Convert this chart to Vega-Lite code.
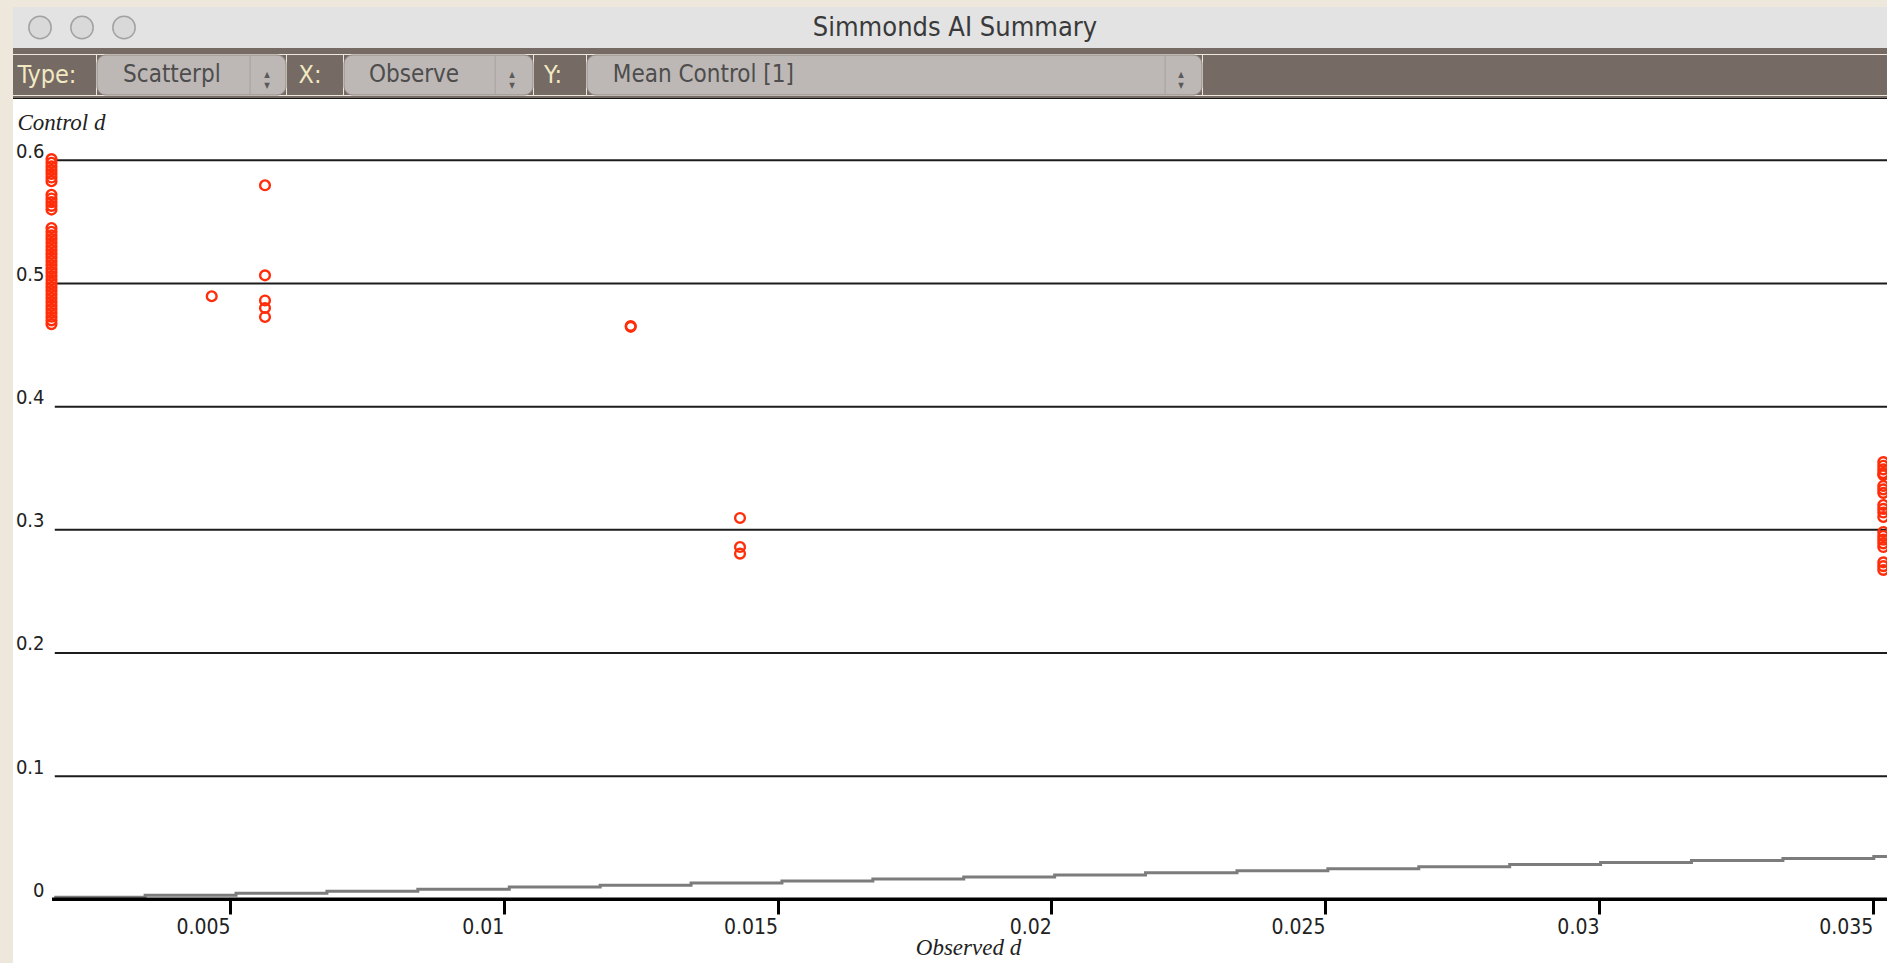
{
  "$schema": "https://vega.github.io/schema/vega-lite/v6.json",
  "background": "#ede7dc",
  "padding": {"left": 13, "top": 7, "right": 0, "bottom": 0},
  "spacing": 0,
  "config": {
    "view": {"stroke": null},
    "concat": {"spacing": 0},
    "text": {"font": "DejaVu Sans Condensed, Liberation Sans Narrow, DejaVu Sans"}
  },
  "vconcat": [
    {
      "spacing": 0,
      "hconcat": [
        {
          "width": 138,
          "height": 41,
          "view": {"fill": "#e3e3e3"},
          "data": {"values": [{"light": "close"}, {"light": "minimize"}, {"light": "zoom"}]},
          "mark": {"type": "point", "filled": true, "size": 500, "fill": "#d9d9d9", "stroke": "#a2a2a2", "strokeWidth": 1.5, "opacity": 1},
          "encoding": {
            "x": {"field": "light", "type": "nominal", "sort": null, "scale": {"type": "point", "padding": 0.643}, "axis": null}
          }
        },
        {
          "width": 1608,
          "height": 41,
          "view": {"fill": "#e3e3e3"},
          "data": {"values": [{"caption": "Simmonds AI Summary"}]},
          "mark": {"type": "text", "fontSize": 27, "color": "#3a3a3a"},
          "encoding": {"text": {"field": "caption"}}
        },
        {
          "width": 128,
          "height": 41,
          "view": {"fill": "#e3e3e3"},
          "data": {"values": []},
          "mark": "point"
        }
      ]
    },
    {
      "width": 1874,
      "height": 6,
      "view": {"fill": "#766a65"},
      "data": {"values": []},
      "mark": "point"
    },
    {
      "spacing": 0,
      "hconcat": [
        {
          "width": 68,
          "height": 40,
          "view": {"fill": "#766a65"},
          "data": {"values": [{"label": "Type:"}]},
          "mark": {"type": "text", "fontSize": 25, "color": "#f1e9c2"},
          "encoding": {"text": {"field": "label"}}
        },
        {
          "width": 15,
          "height": 40,
          "view": {"fill": "#766a65"},
          "data": {"values": []},
          "mark": "point"
        },
        {
          "width": 189,
          "height": 40,
          "view": {"fill": "#766a65"},
          "data": {"values": [{"choice": "Scatterpl"}]},
          "layer": [
            {
              "mark": {"type": "rect", "cornerRadius": 9, "fill": "#bdb8b5", "stroke": "#948b87", "strokeWidth": 1},
              "encoding": {
                "x": {"datum": 0, "scale": {"domain": [0, 1], "nice": false}, "axis": null},
                "x2": {"datum": 1}
              }
            },
            {
              "mark": {"type": "rule", "stroke": "#a8a19d", "strokeWidth": 1},
              "encoding": {"x": {"datum": 0.81}}
            },
            {
              "mark": {"type": "text", "align": "left", "fontSize": 24, "color": "#4d4d4d"},
              "encoding": {"x": {"datum": 0.138}, "text": {"field": "choice"}}
            },
            {
              "mark": {"type": "text", "text": ["▲", "▼"], "fontSize": 8, "lineHeight": 11, "color": "#5a5a5a"},
              "encoding": {"x": {"datum": 0.9}}
            }
          ]
        },
        {
          "width": 46,
          "height": 40,
          "view": {"fill": "#766a65"},
          "data": {"values": [{"label": "X:"}]},
          "mark": {"type": "text", "fontSize": 25, "color": "#f1e9c2"},
          "encoding": {"text": {"field": "label"}}
        },
        {
          "width": 10,
          "height": 40,
          "view": {"fill": "#766a65"},
          "data": {"values": []},
          "mark": "point"
        },
        {
          "width": 189,
          "height": 40,
          "view": {"fill": "#766a65"},
          "data": {"values": [{"choice": "Observe"}]},
          "layer": [
            {
              "mark": {"type": "rect", "cornerRadius": 9, "fill": "#bdb8b5", "stroke": "#948b87", "strokeWidth": 1},
              "encoding": {
                "x": {"datum": 0, "scale": {"domain": [0, 1], "nice": false}, "axis": null},
                "x2": {"datum": 1}
              }
            },
            {
              "mark": {"type": "rule", "stroke": "#a8a19d", "strokeWidth": 1},
              "encoding": {"x": {"datum": 0.8}}
            },
            {
              "mark": {"type": "text", "align": "left", "fontSize": 24, "color": "#4d4d4d"},
              "encoding": {"x": {"datum": 0.132}, "text": {"field": "choice"}}
            },
            {
              "mark": {"type": "text", "text": ["▲", "▼"], "fontSize": 8, "lineHeight": 11, "color": "#5a5a5a"},
              "encoding": {"x": {"datum": 0.889}}
            }
          ]
        },
        {
          "width": 38,
          "height": 40,
          "view": {"fill": "#766a65"},
          "data": {"values": [{"label": "Y:"}]},
          "mark": {"type": "text", "fontSize": 25, "color": "#f1e9c2"},
          "encoding": {"text": {"field": "label"}}
        },
        {
          "width": 14,
          "height": 40,
          "view": {"fill": "#766a65"},
          "data": {"values": []},
          "mark": "point"
        },
        {
          "width": 615,
          "height": 40,
          "view": {"fill": "#766a65"},
          "data": {"values": [{"choice": "Mean Control [1]"}]},
          "layer": [
            {
              "mark": {"type": "rect", "cornerRadius": 9, "fill": "#bdb8b5", "stroke": "#948b87", "strokeWidth": 1},
              "encoding": {
                "x": {"datum": 0, "scale": {"domain": [0, 1], "nice": false}, "axis": null},
                "x2": {"datum": 1}
              }
            },
            {
              "mark": {"type": "rule", "stroke": "#a8a19d", "strokeWidth": 1},
              "encoding": {"x": {"datum": 0.94}}
            },
            {
              "mark": {"type": "text", "align": "left", "fontSize": 24, "color": "#4d4d4d"},
              "encoding": {"x": {"datum": 0.042}, "text": {"field": "choice"}}
            },
            {
              "mark": {"type": "text", "text": ["▲", "▼"], "fontSize": 8, "lineHeight": 11, "color": "#5a5a5a"},
              "encoding": {"x": {"datum": 0.966}}
            }
          ]
        },
        {
          "width": 690,
          "height": 40,
          "view": {"fill": "#766a65"},
          "data": {"values": []},
          "mark": "point"
        }
      ]
    },
    {
      "width": 1874,
      "height": 2,
      "view": {"fill": "#766a65"},
      "data": {"values": []},
      "mark": "point"
    },
    {
      "width": 1874,
      "height": 1,
      "view": {"fill": "#151515"},
      "data": {"values": []},
      "mark": "point"
    },
    {
      "width": 1874,
      "height": 866,
      "view": {"fill": "#ffffff"},
      "layer": [
        {
          "data": {"values": [
            {"level": 0.1}, {"level": 0.2}, {"level": 0.3},
            {"level": 0.4}, {"level": 0.5}, {"level": 0.6}
          ]},
          "mark": {"type": "rule", "color": "#1c1c1c", "strokeWidth": 2},
          "encoding": {
            "y": {
              "field": "level",
              "type": "quantitative",
              "scale": {"domain": [-0.05334, 0.64976], "nice": false, "zero": false},
              "axis": {
                "values": [0, 0.1, 0.2, 0.3, 0.4, 0.5, 0.6],
                "format": "~g",
                "offset": -42,
                "domain": false,
                "ticks": false,
                "grid": false,
                "labelPadding": 11,
                "labelFont": "DejaVu Sans Condensed, Liberation Sans Narrow, DejaVu Sans",
                "labelFontSize": 20,
                "labelColor": "#222222",
                "labelBaseline": "alphabetic",
                "labelOffset": -3,
                "title": "Control d",
                "titleFont": "Liberation Serif",
                "titleFontStyle": "italic",
                "titleFontWeight": "normal",
                "titleFontSize": 23,
                "titleColor": "#222222",
                "titleAngle": 0,
                "titleAlign": "left",
                "titleBaseline": "middle",
                "titleX": -38,
                "titleY": 23
              }
            },
            "x": {
              "datum": 0.0018,
              "type": "quantitative",
              "scale": {"domain": [0.001037, 0.035261], "nice": false, "zero": false},
              "axis": {
                "values": [0.005, 0.01, 0.015, 0.02, 0.025, 0.03, 0.035],
                "format": ".3~f",
                "offset": -66,
                "domain": false,
                "grid": false,
                "tickSize": 15,
                "tickWidth": 3,
                "tickColor": "#000000",
                "labelAlign": "right",
                "labelBaseline": "top",
                "labelPadding": 2,
                "labelFont": "DejaVu Sans Condensed, Liberation Sans Narrow, DejaVu Sans",
                "labelFontSize": 21,
                "labelColor": "#222222",
                "labelFlush": false,
                "labelOverlap": false,
                "title": "Observed d",
                "titleFont": "Liberation Serif",
                "titleFontStyle": "italic",
                "titleFontWeight": "normal",
                "titleFontSize": 23,
                "titleColor": "#222222",
                "titleAlign": "center",
                "titleBaseline": "middle",
                "titleX": 955,
                "titleY": 48
              }
            },
            "x2": {"datum": 0.035261}
          }
        },
        {
          "data": {"values": [
            {"ref_x": 0.00179, "ref_y": 0.0016},
            {"ref_x": 0.00345, "ref_y": 0.0032},
            {"ref_x": 0.00511, "ref_y": 0.0049},
            {"ref_x": 0.00677, "ref_y": 0.0066},
            {"ref_x": 0.00843, "ref_y": 0.0082},
            {"ref_x": 0.0101, "ref_y": 0.0099},
            {"ref_x": 0.01176, "ref_y": 0.0115},
            {"ref_x": 0.01342, "ref_y": 0.0132},
            {"ref_x": 0.01508, "ref_y": 0.0149},
            {"ref_x": 0.01674, "ref_y": 0.0165},
            {"ref_x": 0.0184, "ref_y": 0.0182},
            {"ref_x": 0.02006, "ref_y": 0.0198},
            {"ref_x": 0.02172, "ref_y": 0.0215},
            {"ref_x": 0.02339, "ref_y": 0.0232},
            {"ref_x": 0.02505, "ref_y": 0.0248},
            {"ref_x": 0.02671, "ref_y": 0.0265},
            {"ref_x": 0.02837, "ref_y": 0.0282},
            {"ref_x": 0.03003, "ref_y": 0.0298},
            {"ref_x": 0.03169, "ref_y": 0.0315},
            {"ref_x": 0.03336, "ref_y": 0.0331},
            {"ref_x": 0.03502, "ref_y": 0.0348},
            {"ref_x": 0.03526, "ref_y": 0.0348}
          ]},
          "mark": {"type": "line", "interpolate": "step-after", "color": "#7c7c7c", "strokeWidth": 3},
          "encoding": {
            "x": {"field": "ref_x", "type": "quantitative"},
            "y": {"field": "ref_y", "type": "quantitative"}
          }
        },
        {
          "data": {"values": [{}]},
          "mark": {"type": "rule", "color": "#000000", "strokeWidth": 3.5},
          "encoding": {
            "y": {"datum": 0, "type": "quantitative"},
            "x": {"datum": 0.00175, "type": "quantitative"},
            "x2": {"datum": 0.035261}
          }
        },
        {
          "data": {"values": [
            {"observed": 0.00174, "control": 0.601},
            {"observed": 0.00174, "control": 0.598},
            {"observed": 0.00174, "control": 0.595},
            {"observed": 0.00174, "control": 0.592},
            {"observed": 0.00174, "control": 0.589},
            {"observed": 0.00174, "control": 0.586},
            {"observed": 0.00174, "control": 0.583},
            {"observed": 0.00174, "control": 0.572},
            {"observed": 0.00174, "control": 0.569},
            {"observed": 0.00174, "control": 0.566},
            {"observed": 0.00174, "control": 0.563},
            {"observed": 0.00174, "control": 0.560},
            {"observed": 0.00174, "control": 0.545},
            {"observed": 0.00174, "control": 0.542},
            {"observed": 0.00174, "control": 0.539},
            {"observed": 0.00174, "control": 0.536},
            {"observed": 0.00174, "control": 0.533},
            {"observed": 0.00174, "control": 0.530},
            {"observed": 0.00174, "control": 0.527},
            {"observed": 0.00174, "control": 0.524},
            {"observed": 0.00174, "control": 0.521},
            {"observed": 0.00174, "control": 0.518},
            {"observed": 0.00174, "control": 0.515},
            {"observed": 0.00174, "control": 0.512},
            {"observed": 0.00174, "control": 0.509},
            {"observed": 0.00174, "control": 0.506},
            {"observed": 0.00174, "control": 0.503},
            {"observed": 0.00174, "control": 0.500},
            {"observed": 0.00174, "control": 0.497},
            {"observed": 0.00174, "control": 0.494},
            {"observed": 0.00174, "control": 0.491},
            {"observed": 0.00174, "control": 0.488},
            {"observed": 0.00174, "control": 0.485},
            {"observed": 0.00174, "control": 0.482},
            {"observed": 0.00174, "control": 0.479},
            {"observed": 0.00174, "control": 0.476},
            {"observed": 0.00174, "control": 0.473},
            {"observed": 0.00174, "control": 0.470},
            {"observed": 0.00174, "control": 0.467},
            {"observed": 0.004666, "control": 0.4896},
            {"observed": 0.005639, "control": 0.5797},
            {"observed": 0.005639, "control": 0.5066},
            {"observed": 0.005639, "control": 0.4862},
            {"observed": 0.005639, "control": 0.4801},
            {"observed": 0.005639, "control": 0.4728},
            {"observed": 0.012318, "control": 0.4655},
            {"observed": 0.012318, "control": 0.4648},
            {"observed": 0.014314, "control": 0.3096},
            {"observed": 0.014314, "control": 0.2860},
            {"observed": 0.014314, "control": 0.2806},
            {"observed": 0.035193, "control": 0.3550},
            {"observed": 0.035193, "control": 0.3520},
            {"observed": 0.035193, "control": 0.3490},
            {"observed": 0.035193, "control": 0.3460},
            {"observed": 0.035193, "control": 0.3445},
            {"observed": 0.035193, "control": 0.3356},
            {"observed": 0.035193, "control": 0.3328},
            {"observed": 0.035193, "control": 0.3300},
            {"observed": 0.035193, "control": 0.3201},
            {"observed": 0.035193, "control": 0.3170},
            {"observed": 0.035193, "control": 0.3140},
            {"observed": 0.035193, "control": 0.3104},
            {"observed": 0.035193, "control": 0.2982},
            {"observed": 0.035193, "control": 0.2950},
            {"observed": 0.035193, "control": 0.2920},
            {"observed": 0.035193, "control": 0.2890},
            {"observed": 0.035193, "control": 0.2860},
            {"observed": 0.035193, "control": 0.2736},
            {"observed": 0.035193, "control": 0.2705},
            {"observed": 0.035193, "control": 0.2674}
          ]},
          "mark": {"type": "point", "shape": "circle", "filled": false, "color": "#ff2d0a", "strokeWidth": 2.4, "size": 95, "opacity": 1},
          "encoding": {
            "x": {"field": "observed", "type": "quantitative", "title": "Observed d"},
            "y": {"field": "control", "type": "quantitative", "title": "Control d"}
          }
        }
      ]
    }
  ]
}
